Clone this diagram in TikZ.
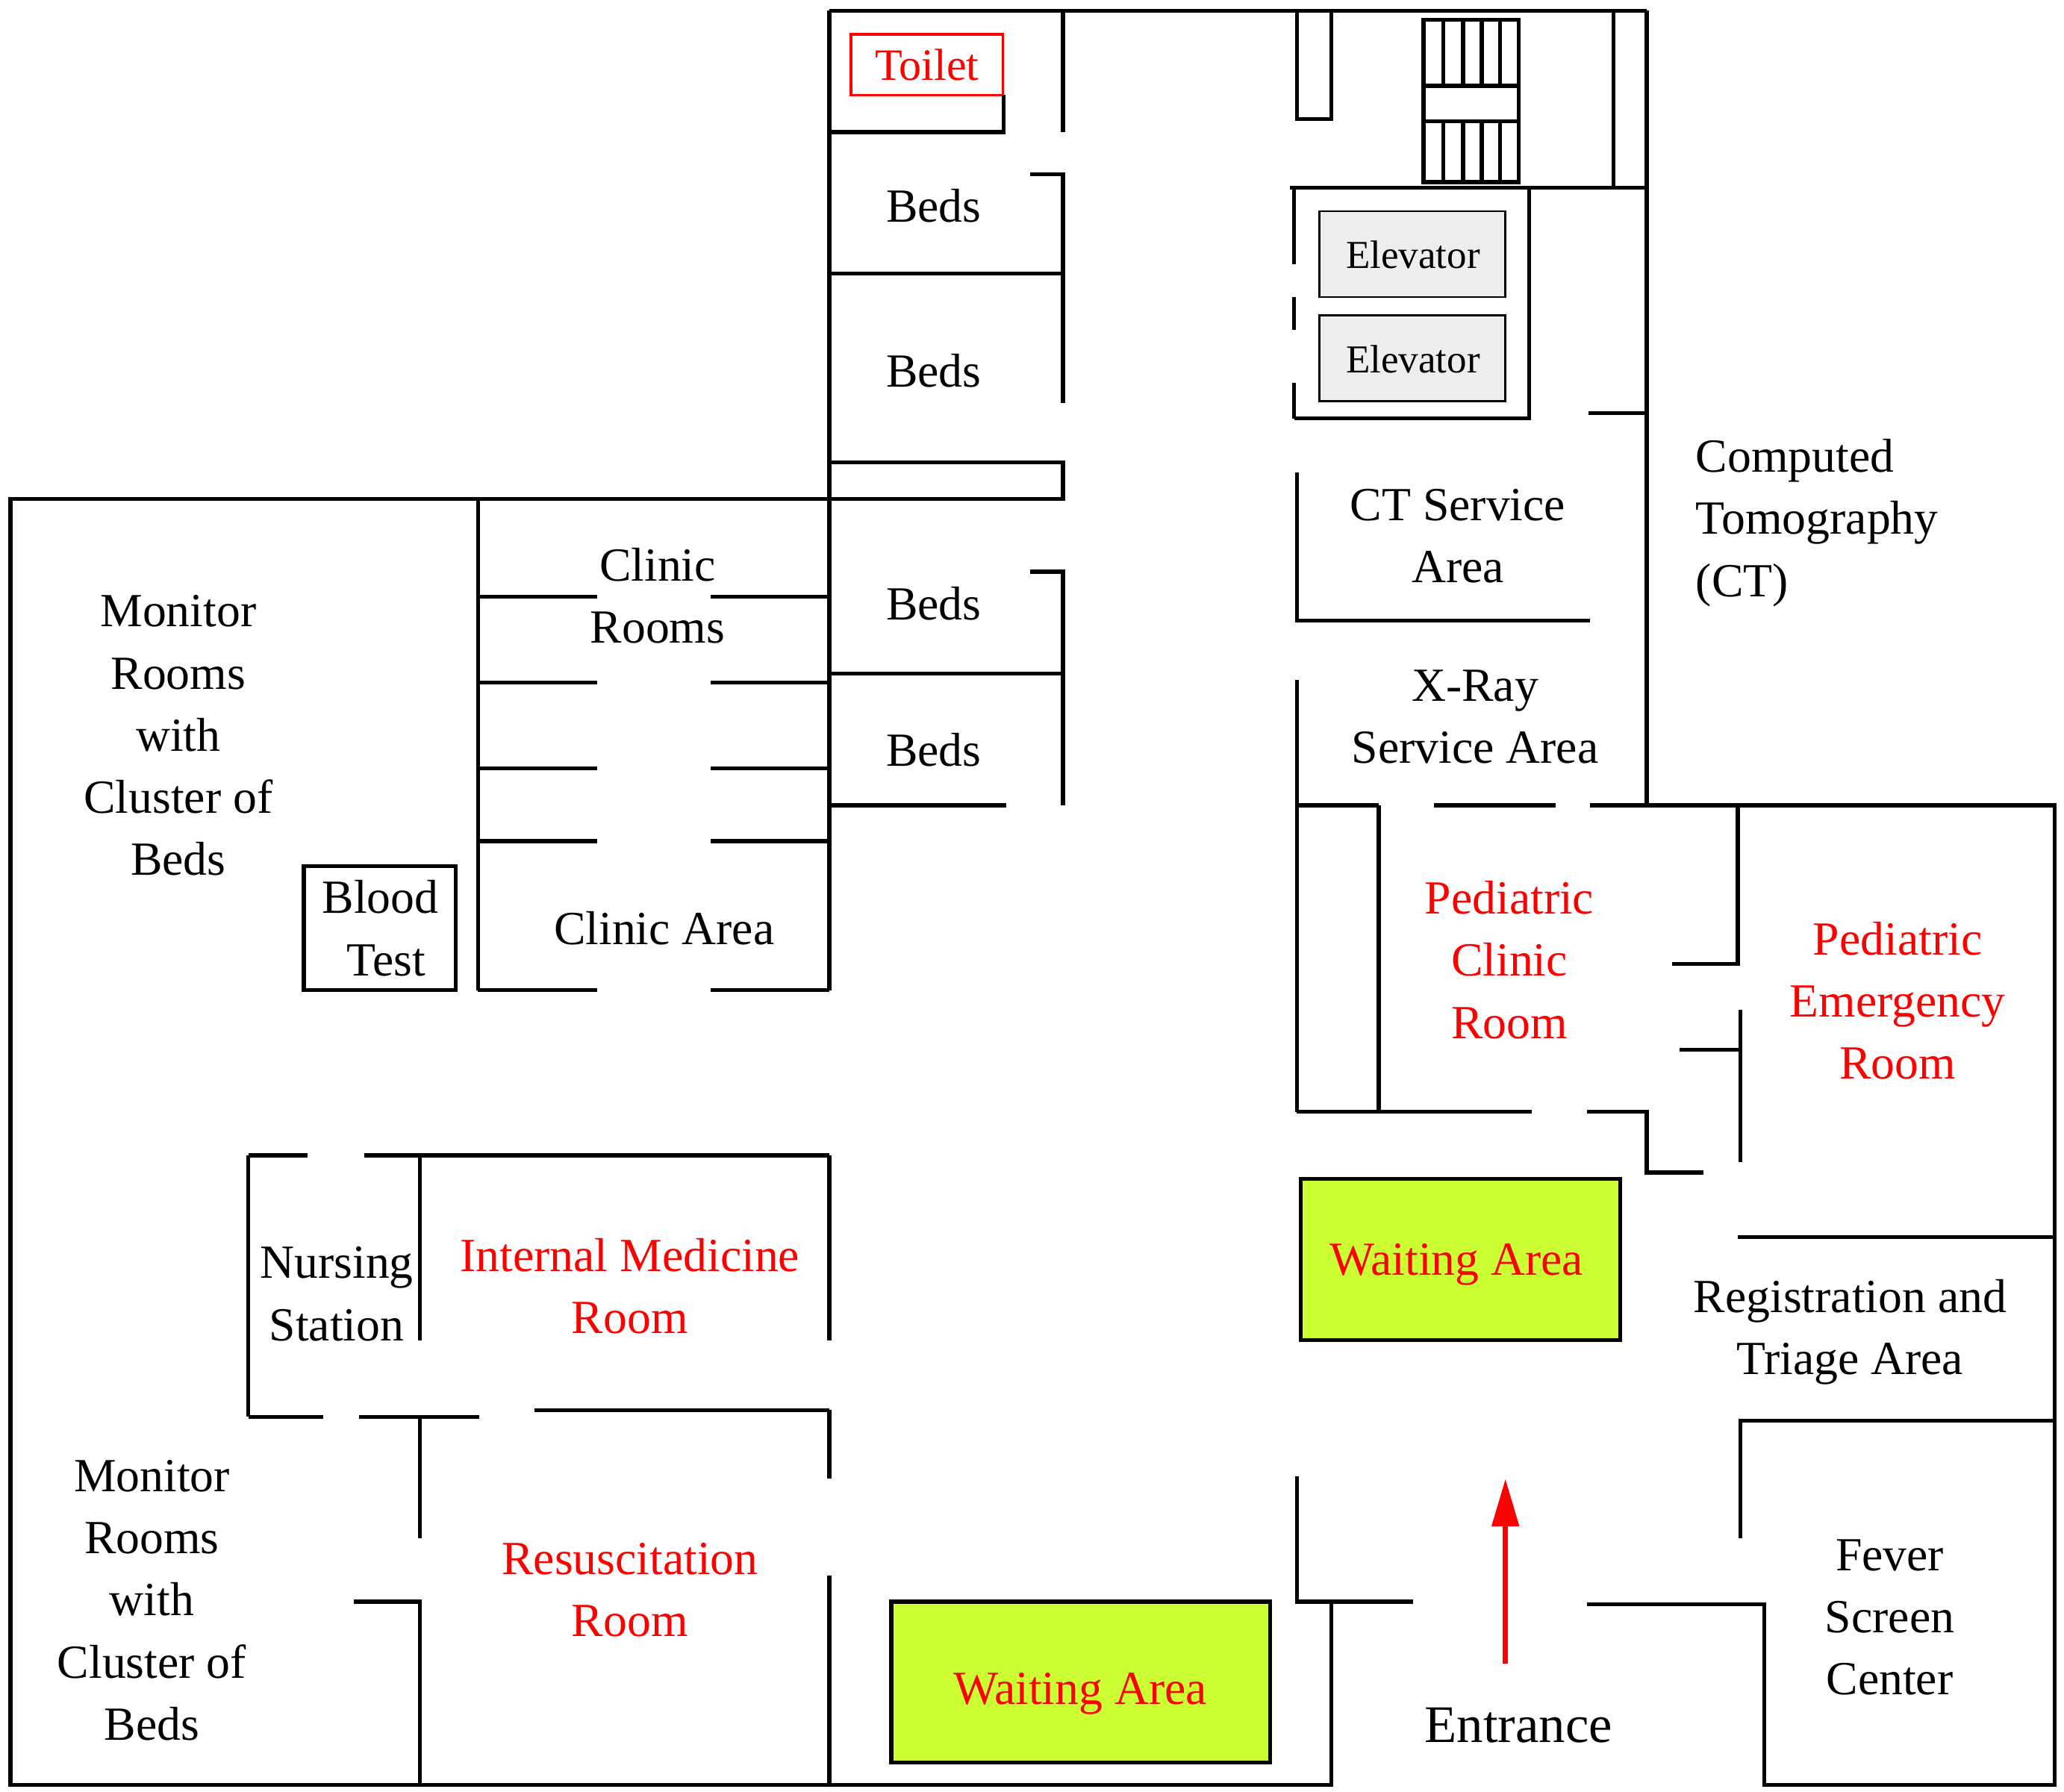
\documentclass[tikz,border=0pt]{standalone}
\usepackage{fontspec}
\setmainfont{Liberation Serif}
\usetikzlibrary{arrows.meta}
\begin{document}
\begin{tikzpicture}[x=0.5pt,y=-0.5pt,
  wall/.style={line width=1.5pt},
  lbl/.style={font=\fontsize{18}{23.5}\selectfont,align=center,inner sep=0pt},
  red lbl/.style={lbl,text=red},
  box/.style={draw,line width=1.5pt}]
\useasboundingbox (0,0) rectangle (1563,1357);
% outer
\draw[wall] (628,8)--(1247,8);
\draw[wall] (628,378)--(8,378)--(8,1352)--(1008,1352)--(1008,1213);
\draw[wall] (982,1118)--(982,1213)--(1070,1213);
\draw[wall] (1202,1215)--(1336,1215)--(1336,1352)--(1556,1352)--(1556,610)--(1316,610);
\draw[wall] (1247,8)--(1247,610);
\draw[wall] (628,8)--(628,750) (628,875)--(628,1015) (628,1068)--(628,1120) (628,1193)--(628,1352);
% toilet and beds
\node[draw=red,line width=1pt,minimum width=57.5pt,minimum height=23pt,text=red,font=\fontsize{17}{20}\selectfont] (toilet) at (702,49) {Toilet};
\draw[wall] (628,100)--(760,100)--(760,72);
\draw[wall] (805,8)--(805,100);
\draw[wall] (780,132)--(805,132)--(805,305);
\draw[wall] (628,207)--(805,207);
\draw[wall] (628,350)--(805,350)--(805,378)--(628,378);
\draw[wall] (780,433)--(805,433)--(805,610);
\draw[wall] (628,510)--(805,510);
\draw[wall] (628,610)--(762,610);
% clinic rooms
\draw[wall] (362,378)--(362,750);
\foreach \y in {452,517,582,637,750}{\draw[wall] (362,\y)--(452,\y) (538,\y)--(628,\y);}
\draw[wall] (230,656) rectangle (345,750);
% nursing
\draw[wall] (188,875)--(233,875) (276,875)--(628,875);
\draw[wall] (188,875)--(188,1073) (318,875)--(318,1015);
\draw[wall] (188,1073)--(245,1073) (272,1073)--(363,1073) (405,1068)--(628,1068);
\draw[wall] (318,1073)--(318,1165);
\draw[wall] (268,1213)--(318,1213)--(318,1352);
% waiting areas
\draw[line width=1.5pt,fill={rgb,255:red,204;green,255;blue,51}] (675,1213) rectangle (962,1335);
\draw[line width=1.5pt,fill={rgb,255:red,204;green,255;blue,51}] (985,893) rectangle (1227,1015);
% upper right
\draw[wall] (982,8)--(982,90)--(1008,90)--(1008,8);
\draw[wall] (1222,8)--(1222,142);
\draw[wall] (1078,15) rectangle (1150,138);
\draw[wall] (1078,65)--(1150,65) (1078,92)--(1150,92);
\foreach \x in {1093,1108,1122,1136}{\draw[wall] (\x,15)--(\x,65) (\x,92)--(\x,138);}
\draw[wall] (977,142)--(1247,142);
\draw[wall] (1158,142)--(1158,317)--(980,317);
\draw[wall] (980,142)--(980,200) (980,225)--(980,250) (980,290)--(980,317);
\draw[line width=0.8pt,fill=black!7] (999,160) rectangle (1140,225);
\draw[line width=0.8pt,fill=black!7] (999,239) rectangle (1140,304);
\draw[wall] (1203,313)--(1247,313);
\draw[wall] (982,358)--(982,470)--(1204,470);
\draw[wall] (982,515)--(982,842);
\draw[wall] (982,610)--(1044,610) (1086,610)--(1178,610) (1204,610)--(1316,610);
\draw[wall] (1044,610)--(1044,842);
\draw[wall] (982,842)--(1160,842);
\draw[wall] (1202,842)--(1247,842)--(1247,888)--(1290,888);
\draw[wall] (1316,610)--(1316,730)--(1266,730);
\draw[wall] (1272,795)--(1318,795) (1318,765)--(1318,880);
\draw[wall] (1316,937)--(1556,937);
\draw[wall] (1318,1165)--(1318,1076)--(1556,1076);
% labels
\node[lbl,font=\fontsize{15}{18}\selectfont] (e1) at (1070,193) {Elevator};
\node[lbl,font=\fontsize{15}{18}\selectfont] (e2) at (1070,272) {Elevator};
\node[lbl] (b1) at (707,156) {Beds};
\node[lbl] (b2) at (707,281) {Beds};
\node[lbl] (b3) at (707,457) {Beds};
\node[lbl] (b4) at (707,568) {Beds};
\node[lbl] (cr) at (498,451) {Clinic\\Rooms};
\node[lbl] (ca) at (503,703) {Clinic Area};
\node[lbl] (bt) at (288,703) {Blood\\\ Test};
\node[lbl] (m1) at (135,557) {Monitor\\Rooms\\with\\Cluster of\\Beds};
\node[lbl] (m2) at (115,1212) {Monitor\\Rooms\\with\\Cluster of\\Beds};
\node[lbl] (ns) at (255,980) {Nursing\\Station};
\node[red lbl] (im) at (477,974) {Internal Medicine\\Room};
\node[red lbl] (rr) at (477,1204) {Resuscitation\\Room};
\node[red lbl] (w1) at (818,1283) {Waiting Area};
\node[red lbl] (w2) at (1103,958) {Waiting Area};
\node[lbl] (cts) at (1104,406) {CT Service\\Area};
\node[lbl] (xr) at (1117,543) {X-Ray\\Service Area};
\node[lbl,align=left] (ct) at (1376,396) {Computed\\Tomography\\(CT)};
\node[red lbl] (pc) at (1143,727) {Pediatric\\Clinic\\Room};
\node[red lbl] (pe) at (1437,758) {Pediatric\\Emergency\\Room};
\node[lbl] (rt) at (1401,1009) {Registration and\\Triage Area};
\node[lbl] (fs) at (1431,1225) {Fever\\Screen\\Center};
\node[lbl,font=\fontsize{20}{24}\selectfont] (en) at (1150,1307) {Entrance};
\coordinate (a0) at (1140,1260);
\coordinate (a1) at (1140,1120);
\draw[red,line width=2pt,-{Triangle[length=18pt,width=10pt]}] (a0)--(a1);
\end{tikzpicture}
\end{document}
